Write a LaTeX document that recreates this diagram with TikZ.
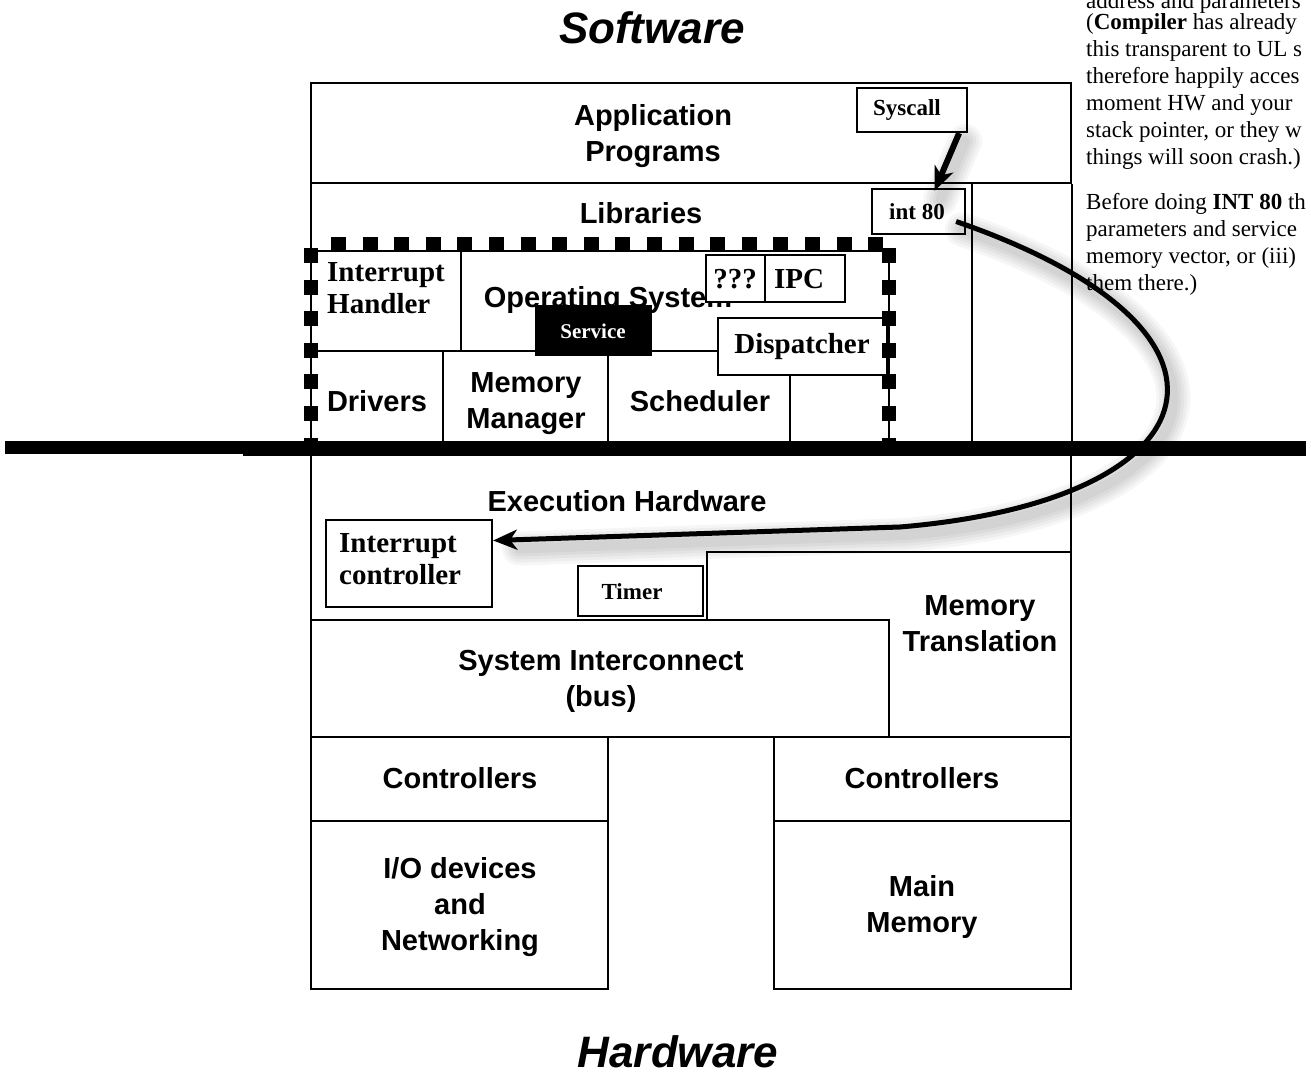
\documentclass[tikz,border=0pt]{standalone}
\usepackage{fontspec}
\setmainfont{Liberation Serif}
\setsansfont{Liberation Sans}
\usetikzlibrary{fit,arrows.meta}
\begin{document}
\begin{tikzpicture}[x=1pt,y=-1pt,
  boxa/.style={draw,line width=2.2pt,inner sep=0pt,fill=white},
  hw/.style={font=\sffamily\bfseries\fontsize{29}{36}\selectfont,align=center,inner sep=0pt},
  sw/.style={font=\rmfamily\bfseries\fontsize{29}{32}\selectfont,align=left,inner sep=0pt},
  lblsmall/.style={font=\rmfamily\bfseries\fontsize{23}{26}\selectfont,inner sep=0pt},
  ttl/.style={font=\sffamily\bfseries\itshape\fontsize{44}{50}\selectfont,inner sep=0pt},
  sqline/.style={line width=14pt,dash pattern=on 15pt off 16.6pt},
  bigarrow/.style={line width=5pt,-{Stealth[length=24pt,width=20pt,inset=7pt]}},
  arrshadow/.style={draw=black,line width=#1,opacity=0.035,line cap=round,
    transform canvas={shift={(6pt,-8pt)}}},
]
\useasboundingbox (0,0) rectangle (1311,1081);
\clip (0,0) rectangle (1311,1081);
\fill[white] (0,0) rectangle (1311,1081);

% titles
\node[ttl] (swtitle) at (652,28) {Software};
\node[ttl] (hwtitle) at (678,1052) {Hardware};

% software part
\node[boxa, fit={(311,83) (1071,183)}] (app) {};
\node[hw] (apptxt) at (653,136) {Application\\Programs};
\node[boxa, fit={(857,88) (967,132)}] (sys) {};
\node[lblsmall] (systxt) at (907,110) {Syscall};
\node[boxa, fit={(311,183) (972,443)}] (lib) {};
\node[hw] (libtxt) at (641,213) {Libraries};
\node[boxa, fit={(872,189) (965,234)}] (int80) {};
\node[lblsmall] (int80txt) at (917,212) {int 80};

% operating system
\node[boxa, fit={(311,251) (889,443)}] (os) {};
\node[boxa, fit={(311,251) (461,351)}] (ih) {};
\node[sw, anchor=west] (ihtxt) at (327,288) {Interrupt\\Handler};
\node[boxa, fit={(311,351) (443,443)}] (drv) {};
\node[hw] (drvtxt) at (377,401) {Drivers};
\node[boxa, fit={(443,351) (608,443)}] (mm) {};
\node[hw] (mmtxt) at (526,404) {Memory\\Manager};
\node[boxa, fit={(608,351) (790,443)}] (sch) {};
\node[hw] (schtxt) at (700,401) {Scheduler};
\node[boxa, fit={(790,375) (889,443)}] (osr) {};
\node[hw] (ostxt) at (608,300) {Operating System};
\node[draw, line width=1pt, fill=black, inner sep=0pt, fit={(535,305) (651,355)}] (svc) {};
\node[text=white, font=\rmfamily\bfseries\fontsize{21}{24}\selectfont, inner sep=0pt] (svctxt) at (593,331) {Service};
\node[boxa, fit={(706,255) (765,302)}] (q3) {};
\node[sw] (q3txt) at (735,279) {???};
\node[boxa, fit={(765,255) (845,302)}] (ipc) {};
\node[sw] (ipctxt) at (799,279) {IPC};
\node[boxa, fit={(718,318) (887,375)}] (disp) {};
\node[sw] (disptxt) at (802,347) {Dispatcher};
\draw[sqline] (331,244) -- (884,244);
\draw[sqline] (311,248) -- (311,450);
\draw[sqline] (889,248) -- (889,450);

% hardware part
\node[boxa, fit={(311,443) (1071,620)}] (exec) {};
\draw[line width=2.2pt] (app.south east) -- (exec.north east);
\node[hw] (exectxt) at (627,501) {Execution Hardware};
\node[boxa, fit={(326,520) (492,607)}] (ic) {};
\node[sw, anchor=west] (ictxt) at (339,559) {Interrupt\\controller};
\node[boxa, fit={(578,566) (703,616)}] (timer) {};
\node[lblsmall] (timertxt) at (632,592) {Timer};
\node[boxa, fit={(707,552) (1071,737)}] (mt) {};
\node[hw] (mttxt) at (980,624) {Memory\\Translation};
\node[boxa, fit={(311,620) (889,737)}] (bus) {};
\node[hw] (bustxt) at (601,681) {System Interconnect\\(bus)};
\node[boxa, fit={(311,737) (608,821)}] (ctl1) {};
\node[hw] (ctl1txt) at (460,778) {Controllers};
\node[boxa, fit={(311,821) (608,989)}] (io) {};
\node[hw] (iotxt) at (460,907) {I/O devices\\and\\Networking};
\node[boxa, fit={(774,737) (1071,821)}] (ctl2) {};
\node[hw] (ctl2txt) at (922,778) {Controllers};
\node[boxa, fit={(774,821) (1071,989)}] (mem) {};
\node[hw] (memtxt) at (922,907) {Main\\Memory};

% software / hardware boundary
\draw[line width=13pt] (5,447) -- (1306,447);
\draw[line width=13pt] (243,449) -- (1306,449);

% note text
\node[anchor=base west, inner sep=0pt, font=\rmfamily\fontsize{23}{27}\selectfont] (note) at (1086,9)
{\begin{tabular}[t]{@{}l@{}}
address and parameters\\[-6pt]
(\textbf{Compiler} has already\\
this transparent to UL s\\
therefore happily acces\\
moment HW and your\\
stack pointer, or they w\\
things will soon crash.)\\[18pt]
Before doing \textbf{INT 80} th\\
parameters and service\\
memory vector, or (iii)\\
them there.)
\end{tabular}};

% arrow shadows
\foreach \w in {34pt,28pt,22pt,16pt,10pt}{
  \draw[arrshadow=\w] ([xshift=-9pt]sys.south east) -- ([xshift=16pt,yshift=-3pt]int80.north);
  \draw[arrshadow=\w] ([xshift=-10pt,yshift=-10pt]int80.east) .. controls (1270,330) and (1220,500) .. (900,527) -- ([xshift=20pt,yshift=23pt]ic.east);
}
% arrows
\draw[bigarrow, line width=6pt] ([xshift=-9pt]sys.south east) -- ([xshift=16pt,yshift=-3pt]int80.north);
\draw[bigarrow] ([xshift=-10pt,yshift=-10pt]int80.east) .. controls (1270,330) and (1220,500) .. (900,527) -- ([yshift=23pt]ic.east);
\end{tikzpicture}
\end{document}
